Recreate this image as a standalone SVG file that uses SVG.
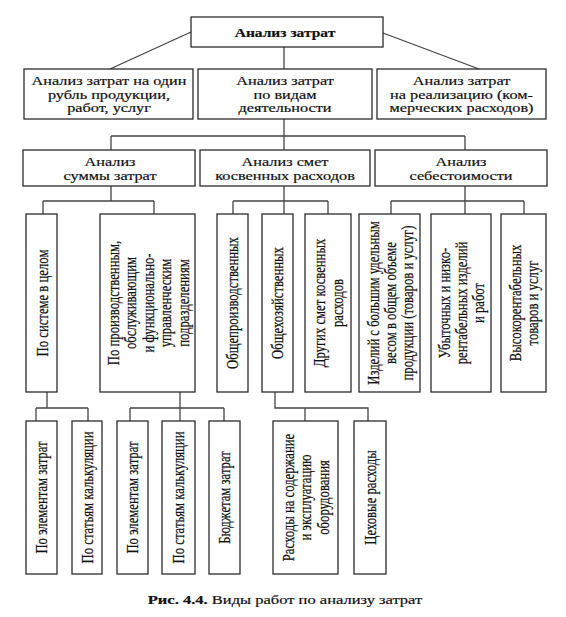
<svg xmlns="http://www.w3.org/2000/svg" width="566" height="617" viewBox="0 0 566 617">
<style>
.box{fill:#fff;stroke:#2b2b2b;stroke-width:1.3}
.ln{fill:none;stroke:#444;stroke-width:1.3}
text{font-family:"Liberation Serif","Times New Roman",serif;font-size:12.7px;fill:#111;stroke:#111;stroke-width:0.2;text-anchor:middle}
.b{font-weight:bold}
</style>
<rect width="566" height="617" fill="#fff"/>
<g id="connectors">
<path class="ln" d="M191,32 L110,69 M383,33 L479,69 M284,47 V69 M284,119 V150 M111,136 H465 M111,136 V150 M465,136 V150"/>
<path class="ln" d="M111,186 V201 M43,201 H154 M43,201 V214 M154,201 V214"/>
<path class="ln" d="M284,186 V214 M233,201 H328 M233,201 V214 M328,201 V214"/>
<path class="ln" d="M465,186 V214 M391,201 H524 M391,201 V214 M524,201 V214"/>
<path class="ln" d="M47,392 V408 M36,408 H88 M36,408 V421 M88,408 V421"/>
<path class="ln" d="M180,392 V421 M130,408 H224 M130,408 V421 M224,408 V421"/>
<path class="ln" d="M275,392 V408 H368 V421 M305,408 V421"/>
</g>
<g id="root">
<rect class="box" x="191" y="17" width="192" height="30"/>
<text class="b" transform="translate(285,37) scale(1.22,1)">Анализ затрат</text>
</g>
<g id="l2a">
<rect class="box" x="24" y="69" width="169" height="50"/>
<text transform="translate(109,85) scale(1.28,1)">Анализ затрат на один</text>
<text transform="translate(109,99) scale(1.28,1)">рубль продукции,</text>
<text transform="translate(109,112) scale(1.28,1)">работ, услуг</text>
</g>
<g id="l2b">
<rect class="box" x="198" y="69" width="174" height="50"/>
<text transform="translate(285,85) scale(1.28,1)">Анализ затрат</text>
<text transform="translate(285,99) scale(1.28,1)">по видам</text>
<text transform="translate(285,112) scale(1.28,1)">деятельности</text>
</g>
<g id="l2c">
<rect class="box" x="377" y="69" width="169" height="50"/>
<text transform="translate(461.5,85) scale(1.28,1)">Анализ затрат</text>
<text transform="translate(461.5,99) scale(1.28,1)">на реализацию (ком-</text>
<text transform="translate(461.5,112) scale(1.28,1)">мерческих расходов)</text>
</g>
<g id="l3a">
<rect class="box" x="23" y="150" width="172" height="36"/>
<text transform="translate(110,166) scale(1.28,1)">Анализ</text>
<text transform="translate(110,180) scale(1.28,1)">суммы затрат</text>
</g>
<g id="l3b">
<rect class="box" x="200" y="150" width="170" height="36"/>
<text transform="translate(285,166) scale(1.28,1)">Анализ смет</text>
<text transform="translate(285,180) scale(1.28,1)">косвенных расходов</text>
</g>
<g id="l3c">
<rect class="box" x="375" y="150" width="172" height="36"/>
<text transform="translate(461,166) scale(1.28,1)">Анализ</text>
<text transform="translate(461,180) scale(1.28,1)">себестоимости</text>
</g>
<g id="l4a">
<rect class="box" x="26" y="214" width="31" height="178"/>
<text dy="0.35em" transform="translate(42,303) scale(1.28,1) rotate(-90)">По системе в целом</text>
</g>
<g id="l4b">
<rect class="box" x="100" y="214" width="95" height="178"/>
<text dy="0.35em" transform="translate(113,303) scale(1.28,1) rotate(-90)">По производственным,</text>
<text dy="0.35em" transform="translate(130.5,303) scale(1.28,1) rotate(-90)">обслуживающим</text>
<text dy="0.35em" transform="translate(148,303) scale(1.28,1) rotate(-90)">и функционально-</text>
<text dy="0.35em" transform="translate(165.5,303) scale(1.28,1) rotate(-90)">управленческим</text>
<text dy="0.35em" transform="translate(183,303) scale(1.28,1) rotate(-90)">подразделениям</text>
</g>
<g id="l4c">
<rect class="box" x="217" y="214" width="31" height="178"/>
<text dy="0.35em" transform="translate(232.5,303) scale(1.28,1) rotate(-90)">Общепроизводственных</text>
</g>
<g id="l4d">
<rect class="box" x="262" y="214" width="31" height="178"/>
<text dy="0.35em" transform="translate(277,303) scale(1.28,1) rotate(-90)">Общехозяйственных</text>
</g>
<g id="l4e">
<rect class="box" x="305" y="214" width="46" height="178"/>
<text dy="0.35em" transform="translate(319.5,303) scale(1.28,1) rotate(-90)">Других смет косвенных</text>
<text dy="0.35em" transform="translate(337,303) scale(1.28,1) rotate(-90)">расходов</text>
</g>
<g id="l4f">
<rect class="box" x="359" y="214" width="61" height="178"/>
<text dy="0.35em" transform="translate(373,303) scale(1.28,1) rotate(-90)">Изделий с большим удельным</text>
<text dy="0.35em" transform="translate(390,303) scale(1.28,1) rotate(-90)">весом в общем объеме</text>
<text dy="0.35em" transform="translate(407,303) scale(1.28,1) rotate(-90)">продукции (товаров и услуг)</text>
</g>
<g id="l4g">
<rect class="box" x="431" y="214" width="60" height="178"/>
<text dy="0.35em" transform="translate(444,303) scale(1.28,1) rotate(-90)">Убыточных и низко-</text>
<text dy="0.35em" transform="translate(461,303) scale(1.28,1) rotate(-90)">рентабельных изделий</text>
<text dy="0.35em" transform="translate(478,303) scale(1.28,1) rotate(-90)">и работ</text>
</g>
<g id="l4h">
<rect class="box" x="501" y="214" width="45" height="178"/>
<text dy="0.35em" transform="translate(515,303) scale(1.28,1) rotate(-90)">Высокорентабельных</text>
<text dy="0.35em" transform="translate(532,303) scale(1.28,1) rotate(-90)">товаров и услуг</text>
</g>
<g id="l5a">
<rect class="box" x="26" y="421" width="31" height="153"/>
<text dy="0.35em" transform="translate(41.5,497.5) scale(1.28,1) rotate(-90)">По элементам затрат</text>
</g>
<g id="l5b">
<rect class="box" x="72" y="421" width="30" height="153"/>
<text dy="0.35em" transform="translate(87,497.5) scale(1.28,1) rotate(-90)">По статьям калькуляции</text>
</g>
<g id="l5c">
<rect class="box" x="117" y="421" width="31" height="153"/>
<text dy="0.35em" transform="translate(132.5,497.5) scale(1.28,1) rotate(-90)">По элементам затрат</text>
</g>
<g id="l5d">
<rect class="box" x="162" y="421" width="33" height="153"/>
<text dy="0.35em" transform="translate(178.5,497.5) scale(1.28,1) rotate(-90)">По статьям калькуляции</text>
</g>
<g id="l5e">
<rect class="box" x="209" y="421" width="31" height="153"/>
<text dy="0.35em" transform="translate(224.5,497.5) scale(1.28,1) rotate(-90)">Бюджетам затрат</text>
</g>
<g id="l5f">
<rect class="box" x="273" y="421" width="65" height="153"/>
<text dy="0.35em" transform="translate(288,497.5) scale(1.28,1) rotate(-90)">Расходы на содержание</text>
<text dy="0.35em" transform="translate(305.5,497.5) scale(1.28,1) rotate(-90)">и эксплуатацию</text>
<text dy="0.35em" transform="translate(323,497.5) scale(1.28,1) rotate(-90)">оборудования</text>
</g>
<g id="l5g">
<rect class="box" x="354" y="421" width="32" height="153"/>
<text dy="0.35em" transform="translate(370,497.5) scale(1.28,1) rotate(-90)">Цеховые расходы</text>
</g>
<g id="caption">
<text transform="translate(285,604) scale(1.3,1)"><tspan class="b">Рис. 4.4.</tspan> Виды работ по анализу затрат</text>
</g>
</svg>
